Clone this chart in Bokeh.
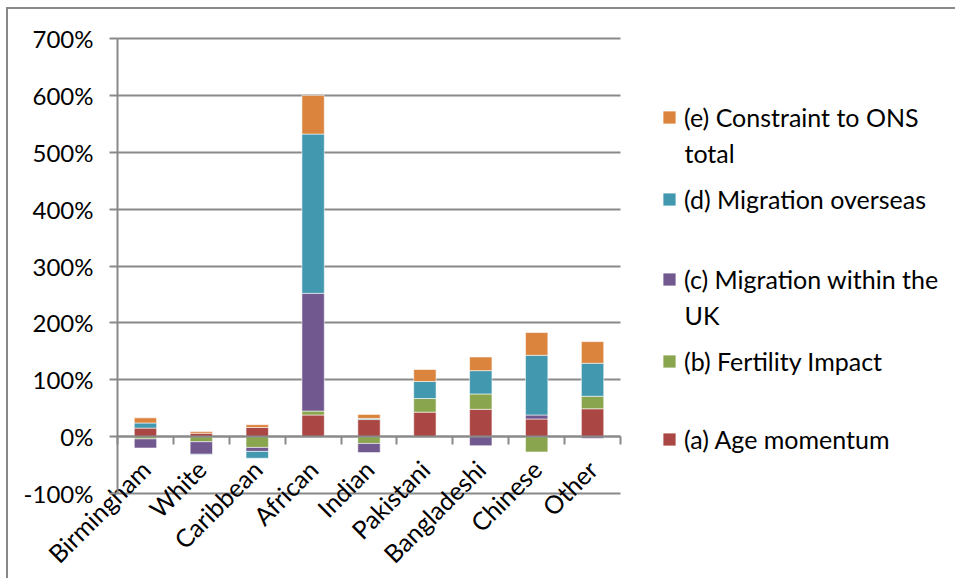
import numpy as np
from math import pi

from bokeh.plotting import figure
from bokeh.models import (LinearAxis, FixedTicker, PrintfTickFormatter, Range1d,
                          Legend, LegendItem, Label)
from bokeh.embed import file_html
from bokeh.resources import INLINE

# Components of projected population change, by ethnic group (percent)
groups = ["Birmingham", "White", "Caribbean", "African", "Indian",
          "Pakistani", "Bangladeshi", "Chinese", "Other"]
age_momentum = [15, 6, 16, 38, 30, 43, 48, 31, 49]
fertility_impact = [-4, -9, -19, 7, -12, 24, 27, -27, 22]
migration_within_uk = [-16, -22, -7, 207, -16, 0, -16, 7, -3]
migration_overseas = [9, -1, -12, 280, 2, 30, 41, 105, 58]
constraint_ons = [9, 3, 5, 68, 7, 21, 24, 40, 38]

series_labels = ["(a) Age momentum", "(b) Fertility Impact",
                 "(c) Migration within the UK", "(d) Migration overseas",
                 "(e) Constraint to ONS total"]
series_values = [age_momentum, fertility_impact, migration_within_uk,
                 migration_overseas, constraint_ons]
series_colors = ["#AA4643", "#89A54E", "#71588F", "#4198AF", "#DB843D"]

y_ticks = list(range(-100, 701, 100))
y_lo, y_hi = -100, 700

FONT = "Lato"
GRAY = "#898989"

n = len(groups)
centers = np.arange(n) + 0.5
bounds = list(range(0, n + 1))

# canvas layout (pixels): the frame covers the whole canvas, the bar area is
# a sub-rectangle of it, so axis labels and legend are drawn inside the frame
W, H = 949, 571
BAR_LEFT, BAR_TOP = 109, 29
BAR_W, BAR_H = 503, 455
x_per_px = n / BAR_W
y_per_px = (y_hi - y_lo) / BAR_H
x_start = -BAR_LEFT * x_per_px
x_end = (W - BAR_LEFT) * x_per_px
y_end = y_hi + BAR_TOP * y_per_px
y_start = y_hi - (H - BAR_TOP) * y_per_px

p = figure(width=W, height=H, output_backend="svg", toolbar_location=None,
           x_range=Range1d(x_start, x_end), y_range=Range1d(y_start, y_end),
           x_axis_location=None, y_axis_location=None,
           min_border_left=0, min_border_right=0,
           min_border_top=0, min_border_bottom=0)
p.styles = {"margin-left": "6px", "margin-top": "7px",
            "border-left": f"2px solid {GRAY}", "border-top": f"2px solid {GRAY}"}
p.outline_line_color = None
p.background_fill_color = "white"
p.border_fill_color = "white"

# y axis on the left edge of the bar area
yax = LinearAxis(fixed_location=0, bounds=(y_lo, y_hi), ticker=FixedTicker(ticks=y_ticks),
                 formatter=PrintfTickFormatter(format="%d%%"))
yax.axis_line_color = GRAY
yax.axis_line_width = 2
yax.major_tick_line_color = GRAY
yax.major_tick_line_width = 2
yax.major_tick_out = 8
yax.major_tick_in = 0
yax.minor_tick_line_color = None
yax.major_label_standoff = 16
yax.major_label_text_font = FONT
yax.major_label_text_font_size = "24px"
yax.major_label_text_color = "black"
p.add_layout(yax, "left")

p.ygrid.grid_line_color = GRAY
p.ygrid.grid_line_width = 2
p.ygrid.bounds = (y_lo, y_hi)
p.ygrid.cross_bounds = (0, n)
for g in p.xgrid:
    g.visible = False

# zero-line axis with tick marks between categories
tick_axis = LinearAxis(fixed_location=0, ticker=FixedTicker(ticks=bounds), bounds=(0, n))
tick_axis.axis_line_color = GRAY
tick_axis.axis_line_width = 2
tick_axis.major_tick_line_color = GRAY
tick_axis.major_tick_line_width = 2
tick_axis.major_tick_out = 8
tick_axis.major_tick_in = 0
tick_axis.minor_tick_line_color = None
tick_axis.major_label_text_alpha = 0
p.add_layout(tick_axis, "below")

# category labels under the zero line
label_axis = LinearAxis(fixed_location=0, ticker=FixedTicker(ticks=list(centers)))
label_axis.major_label_overrides = {float(c): g for c, g in zip(centers, groups)}
label_axis.axis_line_color = None
label_axis.major_tick_line_color = None
label_axis.minor_tick_line_color = None
label_axis.major_tick_out = 0
label_axis.major_label_orientation = pi / 4
label_axis.major_label_standoff = 28
label_axis.major_label_text_font = FONT
label_axis.major_label_text_font_size = "25px"
label_axis.major_label_text_color = "black"
p.add_layout(label_axis, "below")

# stacked bars: positives stack upward, negatives stack downward
pos = np.zeros(n)
neg = np.zeros(n)
renderers = []
for vals, color in zip(series_values, series_colors):
    v = np.array(vals, dtype=float)
    bottom = np.where(v >= 0, pos, neg)
    top = bottom + v
    pos = np.where(v >= 0, top, pos)
    neg = np.where(v < 0, top, neg)
    r = p.vbar(x=centers, bottom=bottom, top=top, width=0.4,
               fill_color=color, line_color="white", line_alpha=0.7, line_width=0.8)
    renderers.append(r)

# legend entries, one block per series (listed from (e) down to (a));
# positions are pixels from the frame's bottom-left corner
LEG_X = 653
legend_rows = [
    # (series index, first-line center, continuation text)
    (4, 462, "total"),
    (3, 380, None),
    (2, 300, "UK"),
    (1, 218, None),
    (0, 140, None),
]
for idx, yc, extra in legend_rows:
    first = series_labels[idx]
    if extra:
        first = first[: -len(extra) - 1]
    lg = Legend(items=[LegendItem(label=first, renderers=[renderers[idx]])],
                location=(LEG_X, yc - 14), padding=0, margin=0, spacing=0,
                glyph_width=16, glyph_height=16, label_standoff=7,
                label_height=28, label_text_font=FONT, label_text_font_size="25px",
                label_text_color="black", border_line_alpha=0,
                background_fill_alpha=0)
    p.add_layout(lg, "center")
    if extra:
        p.add_layout(Label(x=LEG_X + 23, y=yc - 34, x_units="screen", y_units="screen",
                           text=extra, text_font=FONT, text_font_size="25px",
                           text_color="black", text_baseline="middle"))

open("out.html", "w").write(file_html(p, INLINE))
